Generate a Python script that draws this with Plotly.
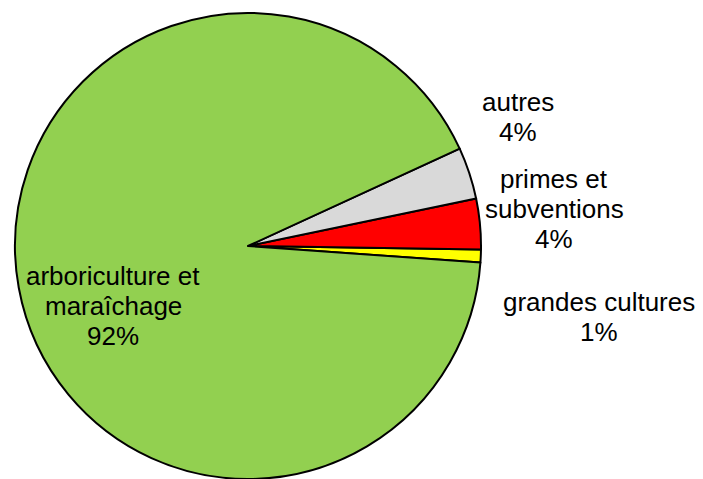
import plotly.graph_objects as go

# Share of revenue by activity (percent), listed counter-clockwise from 3 o'clock
categories = ["grandes cultures", "primes et subventions", "autres", "arboriculture et maraîchage"]
label_lines = [["grandes cultures"], ["primes et", "subventions"], ["autres"], ["arboriculture et", "maraîchage"]]
values = [0.9, 3.5, 3.6, 92.0]
colors = ["#FFFF00", "#FF0000", "#D9D9D9", "#92D050"]

W, H = 703, 479
MT = 13
FONT = dict(family="Liberation Sans, Arial, sans-serif", size=26, color="#000000")

fig = go.Figure(
    go.Pie(
        labels=categories,
        values=values,
        sort=False,
        direction="counterclockwise",
        rotation=90.85,
        marker=dict(colors=colors, line=dict(color="#000000", width=2)),
        textinfo="none",
        showlegend=False,
        domain=dict(x=[15 / W, 481 / W], y=[0, 1]),
    )
)

# Label blocks: (centre x, baseline of first line) in pixels, one per category
label_pos = [(599, 310), (554, 187), (518, 110), (113, 284)]
LINE = 30


def px_to_paper(x, y):
    return x / W, (H - y) / (H - MT)


for lines, v, (cx, base) in zip(label_lines, values, label_pos):
    rows = lines + [f"{int(v + 0.5)}%"]
    for i, row in enumerate(rows):
        px, py = px_to_paper(cx, base + i * LINE)
        fig.add_annotation(
            x=px, y=py, xref="paper", yref="paper",
            text=row, showarrow=False, font=FONT,
            xanchor="center", yanchor="bottom", yshift=-9,
        )

fig.update_layout(
    width=W, height=H,
    margin=dict(l=0, r=0, t=MT, b=0),
    paper_bgcolor="#FFFFFF",
    plot_bgcolor="#FFFFFF",
)

fig.write_html("out.html")
